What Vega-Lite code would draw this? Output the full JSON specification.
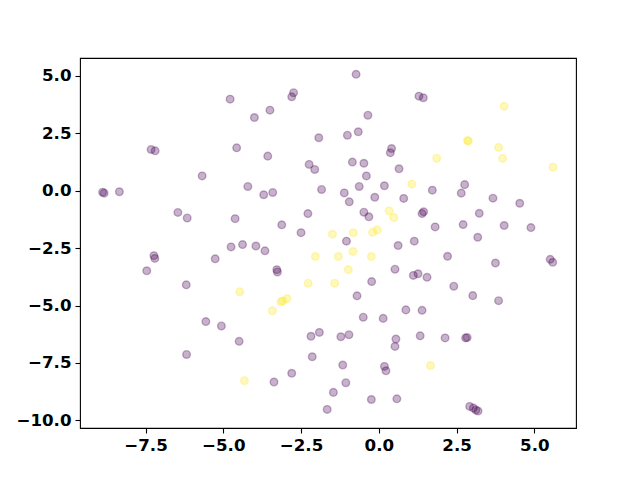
{
  "$schema": "https://vega.github.io/schema/vega-lite/v6.json",
  "autosize": "none",
  "width": 496,
  "height": 370,
  "padding": {"left": 80, "top": 58, "right": 64, "bottom": 52},
  "background": "white",
  "config": {
    "view": {"stroke": "black", "strokeWidth": 1.1},
    "axis": {
      "grid": false,
      "domain": false,
      "labelFont": "DejaVu Sans",
      "labelFontWeight": "bold",
      "labelFontSize": 16.67,
      "labelColor": "black",
      "tickColor": "black",
      "tickSize": 5,
      "tickWidth": 1.1,
      "labelPadding": 4,
      "title": null
    }
  },
  "data": {
    "values": [
      {"x": -4.78, "y": 3.98, "c": 0},
      {"x": -7.32, "y": 1.79, "c": 0},
      {"x": -7.19, "y": 1.73, "c": 0},
      {"x": -4.57, "y": 1.86, "c": 0},
      {"x": -5.68, "y": 0.64, "c": 0},
      {"x": -4.21, "y": 0.18, "c": 0},
      {"x": -8.88, "y": -0.07, "c": 0},
      {"x": -8.83, "y": -0.11, "c": 0},
      {"x": -8.34, "y": -0.05, "c": 0},
      {"x": -6.46, "y": -0.95, "c": 0},
      {"x": -6.16, "y": -1.19, "c": 0},
      {"x": -4.62, "y": -1.22, "c": 0},
      {"x": -4.75, "y": -2.45, "c": 0},
      {"x": -4.38, "y": -2.35, "c": 0},
      {"x": -0.73, "y": 5.06, "c": 0},
      {"x": -2.74, "y": 4.26, "c": 0},
      {"x": -2.8, "y": 4.08, "c": 0},
      {"x": -3.5, "y": 3.5, "c": 0},
      {"x": -4.0, "y": 3.18, "c": 0},
      {"x": -0.35, "y": 3.28, "c": 0},
      {"x": -1.93, "y": 2.3, "c": 0},
      {"x": -1.01, "y": 2.41, "c": 0},
      {"x": -0.66, "y": 2.56, "c": 0},
      {"x": -3.57, "y": 1.5, "c": 0},
      {"x": 0.41, "y": 1.83, "c": 0},
      {"x": 0.37, "y": 1.65, "c": 0},
      {"x": 0.65, "y": 0.95, "c": 0},
      {"x": -0.85, "y": 1.24, "c": 0},
      {"x": -0.48, "y": 1.19, "c": 0},
      {"x": -2.24, "y": 1.14, "c": 0},
      {"x": -2.06, "y": 0.92, "c": 0},
      {"x": -0.4, "y": 0.64, "c": 0},
      {"x": -3.7, "y": -0.18, "c": 0},
      {"x": -3.41, "y": -0.08, "c": 0},
      {"x": -1.84, "y": 0.05, "c": 0},
      {"x": -0.63, "y": 0.18, "c": 0},
      {"x": 0.18, "y": 0.21, "c": 0},
      {"x": -1.11, "y": -0.1, "c": 0},
      {"x": -0.95, "y": -0.49, "c": 0},
      {"x": -0.13, "y": -0.29, "c": 0},
      {"x": 0.8, "y": -0.34, "c": 0},
      {"x": -2.28, "y": -1.0, "c": 0},
      {"x": -0.48, "y": -0.94, "c": 0},
      {"x": -0.32, "y": -1.14, "c": 0},
      {"x": -3.12, "y": -1.49, "c": 0},
      {"x": -2.5, "y": -1.83, "c": 0},
      {"x": -1.04, "y": -2.2, "c": 0},
      {"x": 0.62, "y": -2.39, "c": 0},
      {"x": 1.14, "y": -2.2, "c": 0},
      {"x": -3.95, "y": -2.41, "c": 0},
      {"x": -3.66, "y": -2.62, "c": 0},
      {"x": 1.29, "y": 4.11, "c": 0},
      {"x": 1.43, "y": 4.04, "c": 0},
      {"x": 1.72, "y": 0.02, "c": 0},
      {"x": 2.76, "y": 0.26, "c": 0},
      {"x": 2.65, "y": -0.11, "c": 0},
      {"x": 3.67, "y": -0.33, "c": 0},
      {"x": 4.53, "y": -0.55, "c": 0},
      {"x": 1.44, "y": -0.92, "c": 0},
      {"x": 1.39, "y": -1.0, "c": 0},
      {"x": 3.23, "y": -0.99, "c": 0},
      {"x": 1.81, "y": -1.58, "c": 0},
      {"x": 2.71, "y": -1.48, "c": 0},
      {"x": 4.03, "y": -1.52, "c": 0},
      {"x": 4.89, "y": -1.61, "c": 0},
      {"x": 3.18, "y": -2.03, "c": 0},
      {"x": -7.23, "y": -2.83, "c": 0},
      {"x": -7.2, "y": -2.95, "c": 0},
      {"x": -7.46, "y": -3.49, "c": 0},
      {"x": -5.26, "y": -2.97, "c": 0},
      {"x": -6.19, "y": -4.1, "c": 0},
      {"x": -5.56, "y": -5.7, "c": 0},
      {"x": -5.06, "y": -5.89, "c": 0},
      {"x": -4.49, "y": -6.56, "c": 0},
      {"x": -6.18, "y": -7.13, "c": 0},
      {"x": -3.28, "y": -3.44, "c": 0},
      {"x": -3.26, "y": -3.54, "c": 0},
      {"x": 0.52, "y": -3.42, "c": 0},
      {"x": 1.11, "y": -3.69, "c": 0},
      {"x": 1.26, "y": -3.62, "c": 0},
      {"x": -0.23, "y": -3.96, "c": 0},
      {"x": -0.7, "y": -4.58, "c": 0},
      {"x": 0.87, "y": -5.19, "c": 0},
      {"x": -0.5, "y": -5.51, "c": 0},
      {"x": 0.14, "y": -5.56, "c": 0},
      {"x": -2.18, "y": -6.34, "c": 0},
      {"x": -1.91, "y": -6.17, "c": 0},
      {"x": -1.22, "y": -6.36, "c": 0},
      {"x": -0.96, "y": -6.27, "c": 0},
      {"x": 0.55, "y": -6.46, "c": 0},
      {"x": 0.52, "y": -6.78, "c": 0},
      {"x": -2.14, "y": -7.23, "c": 0},
      {"x": -1.16, "y": -7.59, "c": 0},
      {"x": 0.18, "y": -7.65, "c": 0},
      {"x": 0.23, "y": -7.84, "c": 0},
      {"x": -3.37, "y": -8.33, "c": 0},
      {"x": -2.8, "y": -7.95, "c": 0},
      {"x": -1.06, "y": -8.36, "c": 0},
      {"x": -1.46, "y": -8.78, "c": 0},
      {"x": -0.24, "y": -9.09, "c": 0},
      {"x": 0.58, "y": -9.06, "c": 0},
      {"x": -1.66, "y": -9.52, "c": 0},
      {"x": 2.21, "y": -2.86, "c": 0},
      {"x": 3.75, "y": -3.15, "c": 0},
      {"x": 5.51, "y": -2.99, "c": 0},
      {"x": 5.59, "y": -3.12, "c": 0},
      {"x": 1.55, "y": -3.77, "c": 0},
      {"x": 2.41, "y": -4.16, "c": 0},
      {"x": 3.02, "y": -4.57, "c": 0},
      {"x": 3.85, "y": -4.79, "c": 0},
      {"x": 1.39, "y": -5.21, "c": 0},
      {"x": 1.33, "y": -6.32, "c": 0},
      {"x": 2.13, "y": -6.41, "c": 0},
      {"x": 2.79, "y": -6.41, "c": 0},
      {"x": 2.84, "y": -6.39, "c": 0},
      {"x": 2.92, "y": -9.39, "c": 0},
      {"x": 3.04, "y": -9.46, "c": 0},
      {"x": 3.12, "y": -9.55, "c": 0},
      {"x": 3.19, "y": -9.59, "c": 0},
      {"x": 1.06, "y": 0.28, "c": 1},
      {"x": 0.33, "y": -0.88, "c": 1},
      {"x": 0.48, "y": -1.17, "c": 1},
      {"x": -1.49, "y": -1.9, "c": 1},
      {"x": -0.82, "y": -1.83, "c": 1},
      {"x": -0.2, "y": -1.81, "c": 1},
      {"x": -0.05, "y": -1.71, "c": 1},
      {"x": 4.03, "y": 3.67, "c": 1},
      {"x": 2.85, "y": 2.18, "c": 1},
      {"x": 2.88, "y": 2.16, "c": 1},
      {"x": 3.85, "y": 1.88, "c": 1},
      {"x": 1.86, "y": 1.41, "c": 1},
      {"x": 3.98, "y": 1.4, "c": 1},
      {"x": 5.6, "y": 1.02, "c": 1},
      {"x": -4.47, "y": -4.4, "c": 1},
      {"x": -4.32, "y": -8.27, "c": 1},
      {"x": -2.04, "y": -2.87, "c": 1},
      {"x": -1.3, "y": -2.87, "c": 1},
      {"x": -0.83, "y": -2.65, "c": 1},
      {"x": -0.24, "y": -2.87, "c": 1},
      {"x": -0.98, "y": -3.44, "c": 1},
      {"x": -2.27, "y": -4.03, "c": 1},
      {"x": -1.42, "y": -4.03, "c": 1},
      {"x": -3.15, "y": -4.84, "c": 1},
      {"x": -3.09, "y": -4.8, "c": 1},
      {"x": -2.95, "y": -4.7, "c": 1},
      {"x": -3.42, "y": -5.23, "c": 1},
      {"x": 1.66, "y": -7.61, "c": 1}
    ]
  },
  "mark": {"type": "point", "shape": "circle", "filled": true, "size": 58, "fillOpacity": 0.3, "strokeOpacity": 0.3, "strokeWidth": 1.4},
  "encoding": {
    "x": {
      "field": "x", "type": "quantitative",
      "scale": {"domain": [-9.606, 6.339], "nice": false, "zero": false},
      "axis": {"values": [-7.5, -5, -2.5, 0, 2.5, 5], "format": ".1f"}
    },
    "y": {
      "field": "y", "type": "quantitative",
      "scale": {"domain": [-10.33, 5.77], "nice": false, "zero": false},
      "axis": {"values": [-10, -7.5, -5, -2.5, 0, 2.5, 5], "format": ".1f"}
    },
    "color": {
      "field": "c", "type": "nominal",
      "scale": {"domain": [0, 1], "range": ["#440154", "#fde725"]},
      "legend": null
    },
    "stroke": {
      "field": "c", "type": "nominal",
      "scale": {"domain": [0, 1], "range": ["#440154", "#fde725"]},
      "legend": null
    }
  }
}
